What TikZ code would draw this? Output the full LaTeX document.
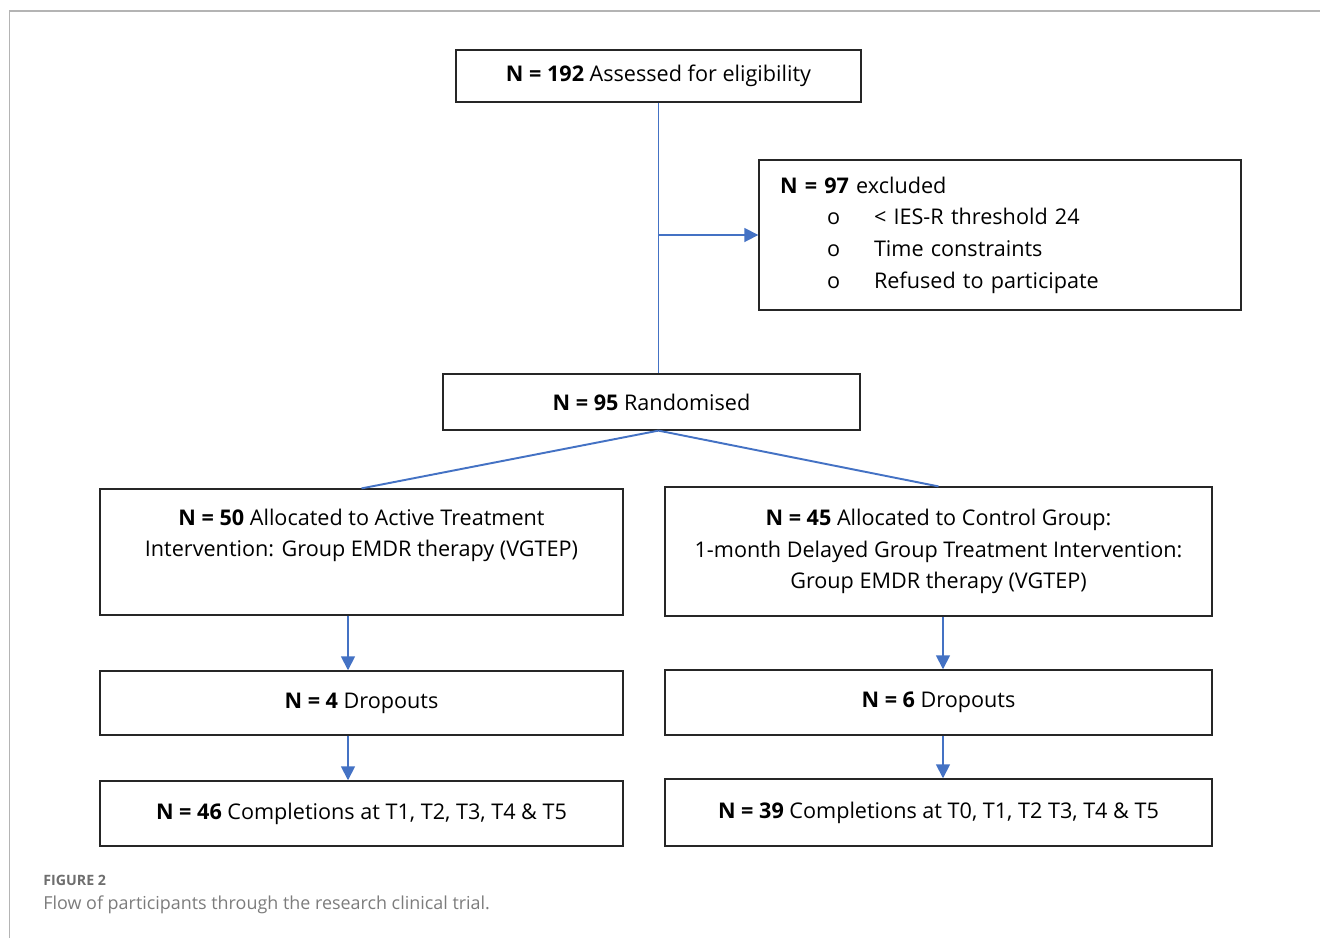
\documentclass[tikz,border=0pt]{standalone}
\usepackage{fontspec}
\setmainfont{Open Sans}
\newfontfamily\capfont{Open Sans}
\usetikzlibrary{arrows.meta,calc}
\definecolor{flowblue}{HTML}{4472C4}
\definecolor{framegrey}{HTML}{B4B4B4}
\definecolor{capgrey}{HTML}{6E6E6E}
\tikzset{
mybox/.style={
  draw=black!85,
  line width=0.7pt,
  align=center,
  inner sep=0pt,
  font=\fontsize{12.3}{18}\selectfont
  },
myarrow/.style={
  draw=flowblue,
  line width=1.6pt,
  -{Triangle[length=0.28cm,width=0.27cm]}
  },
myline/.style={
  draw=flowblue,
  line width=1.1pt
  }
}

\begin{document}
\begin{tikzpicture}[x=0.02cm, y=-0.02cm]
  \useasboundingbox (0,0) rectangle (1320,938);
  \draw[framegrey, line width=1.1pt] (9.5,938) -- (9.5,11) -- (1320,11);

  \node[mybox, minimum width=8.1cm, minimum height=1.04cm] at (658.5,76) (elig)
    {\textbf{N = 192} Assessed for eligibility};

  \node[mybox, align=left, text width=8.8cm, inner xsep=0.42cm, minimum height=3cm] at (1000,235) (excl)
    {\textbf{N = 97} excluded\\
     \hspace*{0.94cm}\makebox[0.94cm][l]{o}< IES-R threshold 24\\
     \hspace*{0.94cm}\makebox[0.94cm][l]{o}Time constraints\\
     \hspace*{0.94cm}\makebox[0.94cm][l]{o}Refused to participate};

  \node[mybox, minimum width=8.34cm, minimum height=1.12cm] at (651.5,402) (rand)
    {\textbf{N = 95} Randomised};

  \node[mybox, minimum width=10.46cm, minimum height=2.52cm, text depth=0.77cm] at (361.5,552) (allocA)
    {\textbf{N = 50} Allocated to Active Treatment\\
     Intervention: Group EMDR therapy (VGTEP)};
  \node[mybox, minimum width=10.94cm, minimum height=2.58cm] at (938.5,551.5) (allocB)
    {\textbf{N = 45} Allocated to Control Group:\\
     1-month Delayed Group Treatment Intervention:\\
     Group EMDR therapy (VGTEP)};

  \node[mybox, minimum width=10.46cm, minimum height=1.28cm] at (361.5,703) (dropA)
    {\textbf{N = 4} Dropouts};
  \node[mybox, minimum width=10.94cm, minimum height=1.3cm] at (938.5,702.5) (dropB)
    {\textbf{N = 6} Dropouts};

  \node[mybox, minimum width=10.46cm, minimum height=1.3cm] at (361.5,813.5) (compA)
    {\textbf{N = 46} Completions at T1, T2, T3, T4 \& T5};
  \node[mybox, minimum width=10.94cm, minimum height=1.34cm] at (938.5,812.5) (compB)
    {\textbf{N = 39} Completions at T0, T1, T2 T3, T4 \& T5};

  \coordinate (split) at (elig.south |- excl.west);
  \coordinate (fork) at (elig.south |- rand.south);

  \draw[myline] (elig.south) -- (elig.south |- rand.north);
  \draw[myarrow] (split) -- (excl.west);
  \draw[myline] (fork) -- (allocA.north);
  \draw[myline] (fork) -- (allocB.north);

  \draw[myarrow] ([xshift=-0.27cm]allocA.south) -- ([xshift=-0.27cm]dropA.north);
  \draw[myarrow] ([xshift=0.09cm]allocB.south) -- ([xshift=0.09cm]dropB.north);
  \draw[myarrow] ([xshift=-0.27cm]dropA.south) -- ([xshift=-0.27cm]compA.north);
  \draw[myarrow] ([xshift=0.09cm]dropB.south) -- ([xshift=0.09cm]compB.north);

  \node[anchor=base west, inner sep=0pt, text=capgrey, font=\capfont\bfseries\fontsize{8.1}{10}\selectfont] at (43,885) (figlabel) {FIGURE 2};
  \node[anchor=base west, inner sep=0pt, text=capgrey!90, font=\capfont\fontsize{10.2}{12}\selectfont] at (43,909) (figcaption) {Flow of participants through the research clinical trial.};
\end{tikzpicture}
\end{document}
